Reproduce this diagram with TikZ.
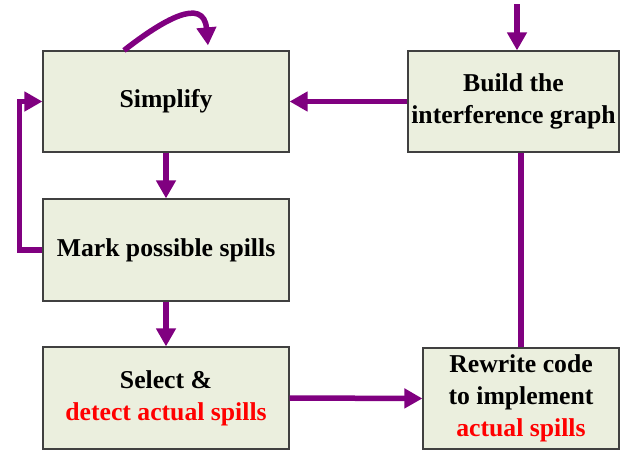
\documentclass[tikz,border=0pt]{standalone}
\usepackage{fontspec}
\setmainfont{Liberation Serif}
\usetikzlibrary{arrows.meta}
\definecolor{boxfill}{RGB}{235,239,222}
\definecolor{flow}{RGB}{128,0,128}
\definecolor{spill}{RGB}{255,0,0}
\begin{document}
\begin{tikzpicture}[x=1pt,y=-1pt,
        stage/.style={draw=black!75,line width=1.2pt,fill=boxfill,align=center,inner sep=2pt,minimum height=101pt,font=\bfseries\fontsize{25.7}{32}\selectfont},
        flowline/.style={draw=flow,line width=5.5pt},
        flowarrow/.style={flowline,-{Triangle[length=18pt,width=19pt]}}]
                \useasboundingbox (0,0) rectangle (633,453);
                %% stages
                \node[stage,minimum width=246pt] (simp) at (166,101.5) {Simplify};
                \node[stage,minimum width=211pt] (build) at (513.5,101.5) {Build the\\interference graph};
                \node[stage,minimum width=246pt,minimum height=102pt] (mark) at (166,250) {Mark possible spills};
                \node[stage,minimum width=246pt,minimum height=102pt] (sel) at (166,398) {Select \&\\\textcolor{spill}{detect actual spills}};
                \node[stage,minimum width=196pt] (rew) at (521,398.5) {Rewrite code\\to implement\\\textcolor{spill}{actual spills}};
                %% flow
                \coordinate (in) at (517,4);
                \draw[flowarrow] (in) -- (in |- build.north);
                \draw[flowarrow] (build.west) -- (simp.east);
                \draw[flowarrow] ([xshift=-42pt]simp.north) to[out=38,in=95,looseness=1.5] ([xshift=42pt,yshift=5pt]simp.north);
                \draw[flowarrow] (simp.south) -- (mark.north);
                \draw[flowarrow] (mark.west) -- ++(-23,0) |- (simp.west);
                \draw[flowarrow] (mark.south) -- (sel.north);
                \draw[flowarrow] (sel.east) -- (rew.west);
                \draw[flowline] (rew.north) -- (rew.north |- build.south);
            \end{tikzpicture}
\end{document}
